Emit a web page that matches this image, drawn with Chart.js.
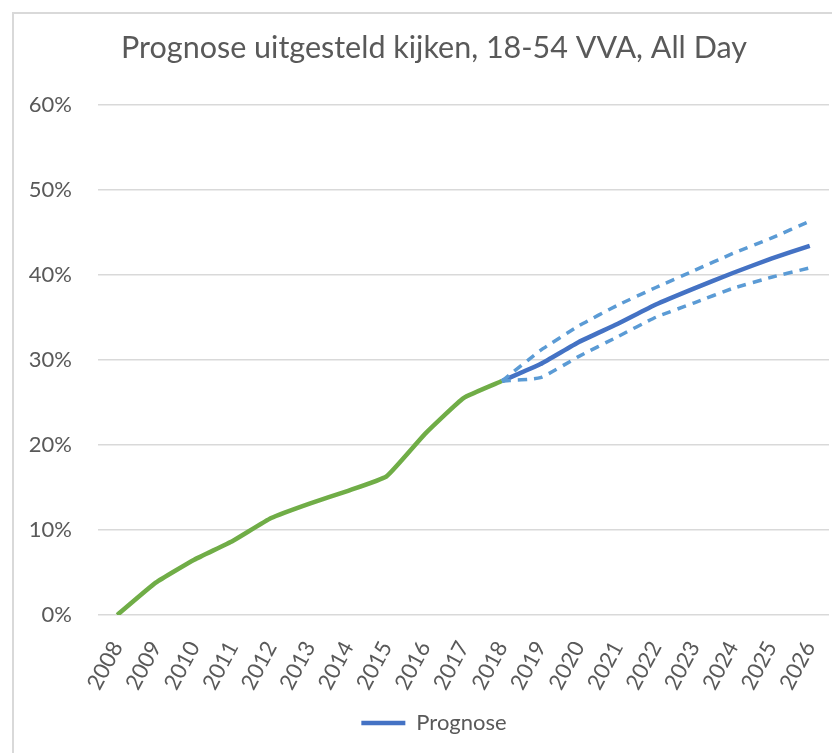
<!DOCTYPE html>
<html>
<head>
<meta charset="utf-8">
<script src="https://cdn.jsdelivr.net/npm/chart.js@4.4.1/dist/chart.umd.min.js"></script>
<style>
  html,body{margin:0;padding:0;background:#fff;overflow:hidden}
  .frame{position:absolute;left:12px;top:12px;width:900px;height:900px;border-left:2px solid #d9d9d9;border-top:2px solid #d9d9d9}
  #wrap{position:absolute;left:0;top:0;width:868px;height:753px}
</style>
</head>
<body>
<div class="frame"></div>
<div id="wrap"><canvas id="c" width="868" height="753"></canvas></div>
<script>
const years = ['2008','2009','2010','2011','2012','2013','2014','2015','2016','2017','2018','2019','2020','2021','2022','2023','2024','2025','2026'];
// historic values (%)
const actual = [0,3.8,6.5,8.7,11.4,13.1,14.6,16.3,21.3,25.5,27.5,null,null,null,null,null,null,null,null];
// forecast + bounds (%)
const prognose = [null,null,null,null,null,null,null,null,null,null,27.5,29.5,32.1,34.2,36.5,38.4,40.2,41.9,43.4];
const upper = [null,null,null,null,null,null,null,null,null,null,27.5,31.1,34.0,36.4,38.5,40.5,42.5,44.3,46.3];
const lower = [null,null,null,null,null,null,null,null,null,null,27.5,27.9,30.4,32.7,35.0,36.7,38.4,39.7,40.8];
const yTicks = [0,10,20,30,40,50,60];

const FONT = 'Lato';
const TXT = '#595959';

new Chart(document.getElementById('c'),{
  type:'line',
  data:{
    labels:years,
    datasets:[
      {label:'Werkelijk',data:actual,borderColor:'#70ad47',borderWidth:4.5,pointRadius:0,tension:0.12,order:3},
      {label:'Prognose',data:prognose,borderColor:'#4472c4',backgroundColor:'#4472c4',borderWidth:4.5,pointRadius:0,tension:0.15,order:2},
      {label:'Boven',data:upper,borderColor:'#5b9bd5',borderWidth:3.5,borderDash:[9,7],pointRadius:0,tension:0.15,order:1},
      {label:'Onder',data:lower,borderColor:'#5b9bd5',borderWidth:3.5,borderDash:[9,7],pointRadius:0,tension:0.15,order:1}
    ]
  },
  options:{
    responsive:false,
    animation:false,
    layout:{padding:{left:0,right:0,top:0,bottom:9}},
    plugins:{
      title:{display:true,text:'Prognose uitgesteld kijken, 18-54 VVA, All Day',color:TXT,
        font:{family:FONT,size:30.5,weight:'normal'},padding:{top:30,bottom:38}},
      legend:{position:'bottom',
        labels:{filter:i=>i.datasetIndex===1,usePointStyle:true,pointStyle:'line',pointStyleWidth:44,color:TXT,
          font:{family:FONT,size:22},padding:10}},
      tooltip:{enabled:false}
    },
    scales:{
      x:{
        offset:true,
        grid:{display:false},
        border:{display:false},
        ticks:{color:TXT,font:{family:FONT,size:22},minRotation:62,maxRotation:62,padding:14},
        afterFit:s=>{s.height=87}
      },
      y:{
        min:0,max:60,
        afterBuildTicks:s=>{s.ticks=yTicks.map(v=>({value:v}))},
        grid:{color:'#d9d9d9',lineWidth:1.5,drawTicks:false},
        border:{display:false},
        ticks:{color:TXT,font:{family:FONT,size:22},padding:26,callback:v=>v+'%'},
        afterFit:s=>{s.width=98}
      },
      // empty right-hand spacer so title and legend centre on the wider frame
      yr:{
        position:'right',
        grid:{display:false},
        border:{display:false},
        ticks:{display:false},
        afterFit:s=>{s.width=39}
      }
    }
  }
});
</script>
</body>
</html>
